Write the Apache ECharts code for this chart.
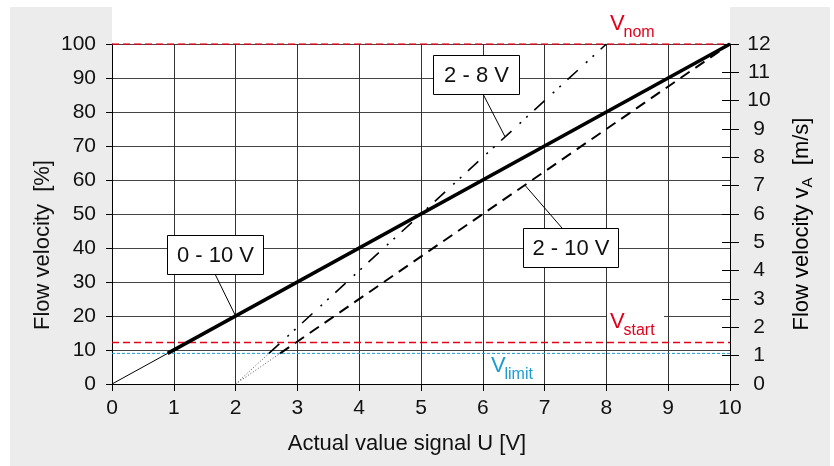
<!DOCTYPE html>
<html><head><meta charset="utf-8">
<script src="https://cdn.jsdelivr.net/npm/echarts@6/dist/echarts.min.js"></script>
<style>
html,body{margin:0;padding:0;background:#fff;overflow:hidden;}
#bg{position:absolute;left:10px;top:7px;width:820px;height:459px;background:#ececec;}
#plotbg{position:absolute;left:112px;top:0;width:618px;height:384px;background:#fff;}
#chart{position:absolute;left:0;top:0;width:834px;height:466px;}
</style></head><body>
<div id="bg"></div><div id="plotbg"></div><div id="chart"></div>
<script>
// ---- data ----
const voltageRange = [0, 10];
const percentRange = [0, 100];
const speedRange = [0, 12];
const curve0to10Start = [[0, 0], [0.9, 9]];
const curve0to10 = [[0.9, 9], [10, 100]];
const curve2to10Start = [[2, 0], [2.72, 9]];
const curve2to10 = [[2.72, 9], [10, 100]];
const curve2to8Start = [[2, 0], [2.54, 9]];
const curve2to8 = [[2.54, 9], [8, 100]];
const vNom = 100, vStart = 12.2, vLimit = 9;
const curveLabels = ['0 - 10 V', '2 - 8 V', '2 - 10 V'];
const curveLabelAnchors = [[2, 20], [6.36, 72.7], [6.68, 58.5]];
const axisTitles = ['Actual value signal U [V]', 'Flow velocity  [%]', 'Flow velocity v', 'A', '  [m/s]'];

const FONT = '"Liberation Sans", Arial, sans-serif';
const RED = '#e2001a', BLUE = '#1a9bd7';

function refLine(y, color, type, width) {
  return {type: 'line', data: [[voltageRange[0], y], [voltageRange[1], y]], symbol: 'none', silent: true,
    lineStyle: {color: color, type: type, width: width}, z: 3};
}
function curve(data, color, type, width) {
  return {type: 'line', data: data, symbol: 'none', silent: true,
    lineStyle: {color: color, type: type, width: width, cap: 'butt'}, z: 4};
}

const chart = echarts.init(document.getElementById('chart'), null, {renderer: 'canvas'});
const option = {
  animation: false,
  backgroundColor: 'transparent',
  grid: {left: 112, right: 104, top: 44, bottom: 82},
  xAxis: {type: 'value', min: voltageRange[0], max: voltageRange[1], interval: 1,
    axisLine: {lineStyle: {color: '#000', width: 1}},
    axisTick: {length: 7, lineStyle: {color: '#000'}},
    axisLabel: {fontSize: 21, color: '#111', margin: 14, fontFamily: FONT},
    splitLine: {show: true, lineStyle: {color: '#333', width: 1}}},
  yAxis: [
    {type: 'value', min: percentRange[0], max: percentRange[1], interval: 10, position: 'left',
      axisLine: {show: true, lineStyle: {color: '#000', width: 1}},
      axisTick: {show: true, length: 6, lineStyle: {color: '#000'}},
      axisLabel: {fontSize: 21, color: '#111', margin: 16, fontFamily: FONT},
      splitLine: {show: true, lineStyle: {color: '#444', width: 1}}},
    {type: 'value', min: speedRange[0], max: speedRange[1], interval: 1, position: 'right',
      axisLine: {show: true, lineStyle: {color: '#000', width: 1}},
      axisTick: {show: true, length: 9, lineStyle: {color: '#000'}},
      axisLabel: {fontSize: 21, color: '#111', margin: 29, align: 'center', fontFamily: FONT},
      splitLine: {show: false}},
    {type: 'value', min: speedRange[0], max: speedRange[1], interval: 1, position: 'right',
      axisLine: {show: false},
      axisTick: {show: true, inside: true, length: 8, lineStyle: {color: '#000'}},
      axisLabel: {show: false}, splitLine: {show: false}}
  ],
  series: [
    refLine(vNom, RED, [7, 4], 1.5),
    refLine(vStart, RED, [7, 4], 1.5),
    refLine(vLimit, BLUE, [3, 2], 1),
    curve(curve0to10Start, '#000', 'solid', 1),
    curve(curve0to10, '#000', 'solid', 3.5),
    curve(curve2to10Start, '#555', [1, 2], 1),
    curve(curve2to10, '#000', [11, 7], 2),
    curve(curve2to8Start, '#555', [1, 2], 1),
    curve(curve2to8, '#000', [14, 11, 2, 7, 2, 9], 1.6)
  ]
};
chart.setOption(option);

// ---- annotations ----
const px = p => chart.convertToPixel({xAxisIndex: 0, yAxisIndex: 0}, p);
const boxes = [
  {left: 167, top: 235, w: 96, h: 39, ax: 215, fromTop: false},
  {left: 433, top: 55, w: 86, h: 39, ax: 483, fromTop: false},
  {left: 523, top: 228, w: 95, h: 39, ax: 562, fromTop: true}
];
const g = [];
boxes.forEach((b, i) => {
  const a = px(curveLabelAnchors[i]);
  g.push({type: 'line', z: 100, shape: {x1: b.ax, y1: b.fromTop ? b.top : b.top + b.h, x2: a[0], y2: a[1]},
    style: {stroke: '#000', lineWidth: 1}});
  g.push({type: 'rect', z: 101, shape: {x: b.left + 0.5, y: b.top + 0.5, width: b.w, height: b.h},
    style: {fill: '#fff', stroke: '#000', lineWidth: 1}});
  g.push({type: 'text', z: 102, x: b.left + b.w / 2 + 0.5, y: b.top + b.h / 2 + 1,
    style: {text: curveLabels[i], font: '22px ' + FONT, fill: '#111',
      textAlign: 'center', textVerticalAlign: 'middle', align: 'center', verticalAlign: 'middle'}});
});
function vlabel(x, y, sub, color, bg) {
  if (bg) g.push({type: 'rect', z: 90, shape: {x: x - 3, y: y - 16, width: 57, height: 32}, style: {fill: '#fff'}});
  g.push({type: 'text', z: 100, x: x, y: y,
    style: {text: 'V', font: '22px ' + FONT, fill: color, textAlign: 'left', textVerticalAlign: 'middle', align: 'left', verticalAlign: 'middle'}});
  g.push({type: 'text', z: 100, x: x + 13.5, y: y + 9,
    style: {text: sub, font: '16px ' + FONT, fill: color, textAlign: 'left', textVerticalAlign: 'middle', align: 'left', verticalAlign: 'middle'}});
}
vlabel(610, 24, 'nom', RED, false);
vlabel(610, 322, 'start', RED, true);
vlabel(491, 366, 'limit', BLUE, false);

g.push({type: 'text', x: 407, y: 444, style: {text: axisTitles[0], font: '22px ' + FONT, fill: '#111',
  textAlign: 'center', textVerticalAlign: 'middle', align: 'center', verticalAlign: 'middle'}});
g.push({type: 'text', x: 43, y: 245, rotation: Math.PI / 2, style: {text: axisTitles[1], font: '22px ' + FONT, fill: '#111',
  textAlign: 'center', textVerticalAlign: 'middle', align: 'center', verticalAlign: 'middle'}});
g.push({type: 'text', x: 803, y: 224, rotation: Math.PI / 2, style: {
  text: '{a|' + axisTitles[2] + '}{b|' + axisTitles[3] + '}{a|' + axisTitles[4] + '}',
  textAlign: 'center', textVerticalAlign: 'middle', align: 'center', verticalAlign: 'middle',
  rich: {
    a: {fontSize: 22, fontFamily: FONT, color: '#111', lineHeight: 24, verticalAlign: 'top'},
    b: {fontSize: 15, fontFamily: FONT, color: '#111', lineHeight: 16, padding: [12, 0, 0, 0], verticalAlign: 'bottom'}
  }}});
chart.setOption({graphic: {elements: g}});
</script>
</body></html>
